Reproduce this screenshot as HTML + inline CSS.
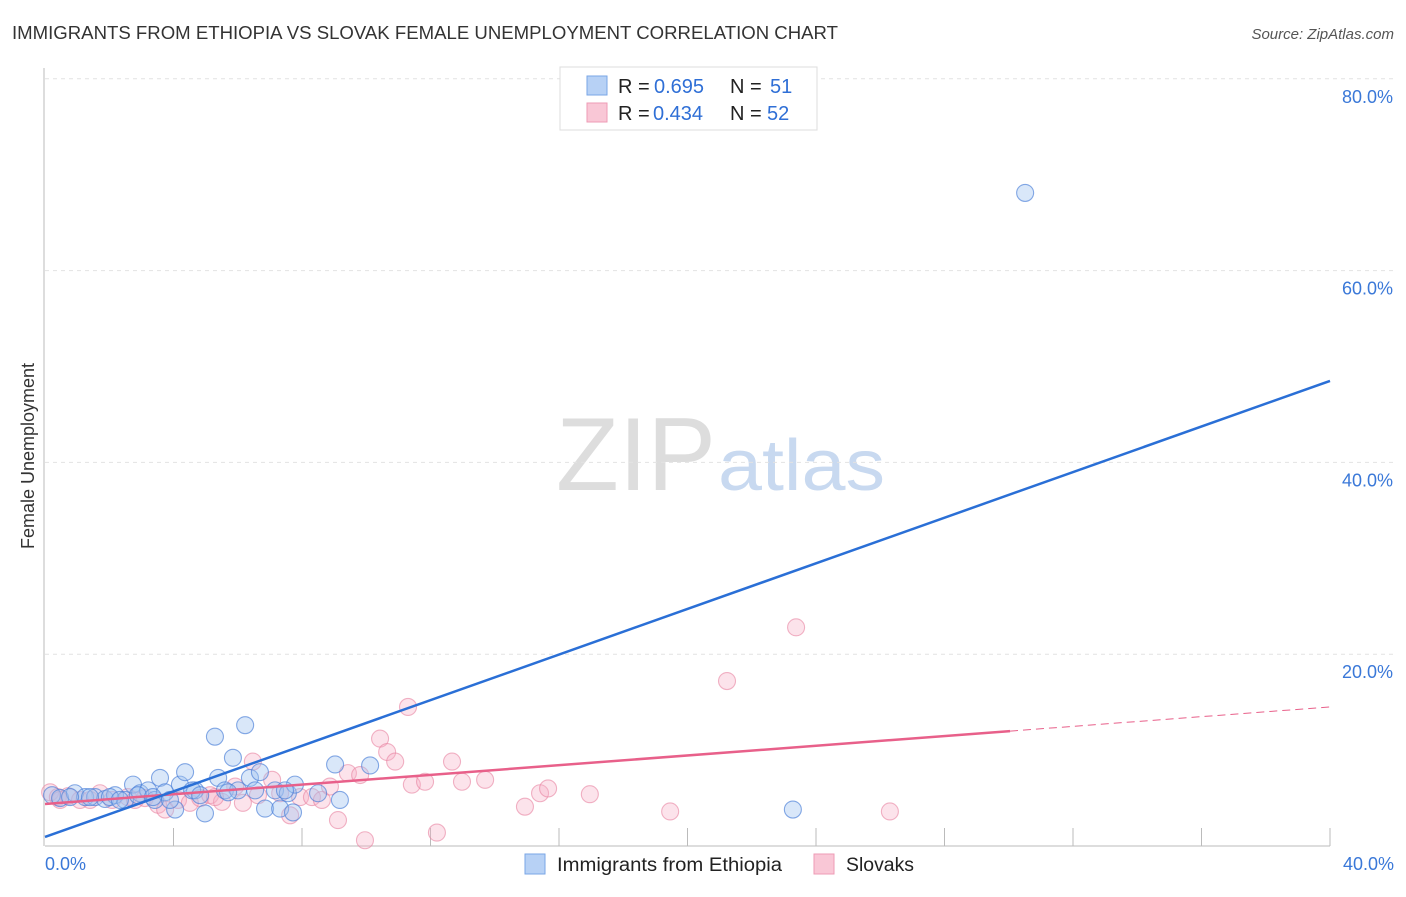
<!DOCTYPE html>
<html><head><meta charset="utf-8"><style>
body{margin:0;background:#fff;font-family:"Liberation Sans",sans-serif;}
svg text{font-family:"Liberation Sans",sans-serif;}
</style></head><body>
<svg id="chart" width="1406" height="892" xmlns="http://www.w3.org/2000/svg">
<text x="12" y="39" font-size="18" fill="#333" textLength="826" lengthAdjust="spacingAndGlyphs">IMMIGRANTS FROM ETHIOPIA VS SLOVAK FEMALE UNEMPLOYMENT CORRELATION CHART</text>
<text x="1394" y="39" font-size="15" fill="#555" font-style="italic" text-anchor="end">Source: ZipAtlas.com</text>
<text x="716" y="490" font-size="104" fill="#ddd" font-family="Liberation Serif" text-anchor="end" textLength="160" lengthAdjust="spacingAndGlyphs">ZIP</text>
<text x="718" y="490" font-size="72" fill="#c8d9f0" textLength="167" lengthAdjust="spacingAndGlyphs">atlas</text>
<text transform="translate(34,456) rotate(-90)" font-size="18" fill="#333" text-anchor="middle">Female Unemployment</text>
<g id="grid"></g><g id="axes"></g><g id="marks"></g>
<g>
<rect x="560" y="67" width="257" height="63" fill="#fff" stroke="#ddd"/>
<rect x="587" y="76" width="20" height="19" fill="#b7d1f5" stroke="#7aa6e6"/>
<rect x="587" y="103" width="20" height="19" fill="#f9c7d6" stroke="#ee9bb5"/>
<text x="618" y="93" font-size="20" fill="#222">R =</text>
<text x="654" y="93" font-size="20" fill="#2f6fd6">0.695</text>
<text x="730" y="93" font-size="20" fill="#222">N =</text>
<text x="770" y="93" font-size="20" fill="#2f6fd6">51</text>
<text x="618" y="120" font-size="20" fill="#222">R =</text>
<text x="653" y="120" font-size="20" fill="#2f6fd6">0.434</text>
<text x="730" y="120" font-size="20" fill="#222">N =</text>
<text x="767" y="120" font-size="20" fill="#2f6fd6">52</text>
</g>
<g>
<rect x="525" y="854" width="20" height="20" fill="#b7d1f5" stroke="#7aa6e6"/>
<text x="557" y="871" font-size="19" fill="#222" textLength="225" lengthAdjust="spacingAndGlyphs">Immigrants from Ethiopia</text>
<rect x="814" y="854" width="20" height="20" fill="#f9c7d6" stroke="#ee9bb5"/>
<text x="846" y="871" font-size="19" fill="#222" textLength="68" lengthAdjust="spacingAndGlyphs">Slovaks</text>
</g>
</svg>
<script>
const yTicks=[20,40,60,80];
const yTickLabels=["20.0%","40.0%","60.0%","80.0%"];
const xTickLabels=["0.0%","40.0%"];
const blueX=[0.22,0.47,0.93,1.25,1.56,1.87,2.18,2.49,2.74,2.96,3.21,3.42,3.58,3.74,4.05,4.20,4.36,4.67,4.98,5.29,5.39,5.60,5.85,6.01,6.23,6.38,6.54,6.69,6.85,7.16,7.32,7.56,7.72,7.78,8.50,9.03,9.18,10.12,30.51,23.28,0.78,1.40,2.02,2.33,2.89,3.36,3.89,4.58,4.83,5.70,7.47];
const blueY=[5.3,5.0,5.5,5.1,5.1,4.9,5.3,4.8,6.4,5.5,5.8,4.8,7.1,5.6,3.8,6.4,7.7,5.8,3.4,11.4,7.1,5.8,9.2,5.8,12.6,7.1,5.8,7.7,3.9,5.8,3.9,5.5,3.5,6.4,5.5,8.5,4.8,8.4,68.1,3.8,5.1,5.1,5.1,4.8,5.3,5.1,4.8,5.8,5.3,5.6,5.8];
const pinkX=[0.16,0.40,0.72,1.09,1.71,2.09,2.58,3.11,3.52,3.74,4.14,4.51,4.83,5.14,5.51,5.92,6.16,6.47,6.63,7.07,7.32,7.63,7.94,8.31,8.62,8.87,9.12,9.43,9.81,9.96,10.43,10.65,10.90,11.30,11.42,11.83,12.20,12.67,12.98,13.70,14.94,15.41,15.66,16.96,19.46,21.23,23.38,26.30,0.47,1.40,2.80,5.29];
const pinkY=[5.6,5.1,5.2,4.8,5.5,4.8,5.1,5.0,4.3,3.8,4.8,4.5,5.0,5.3,4.6,6.2,4.5,8.8,5.3,6.9,5.5,3.2,5.1,5.1,4.8,6.2,2.7,7.6,7.4,0.6,11.2,9.8,8.8,14.5,6.4,6.7,1.4,8.8,6.7,6.9,4.1,5.5,6.0,5.4,3.6,17.2,22.8,3.6,4.8,4.8,4.8,5.1];
const blueTrend=[0.94,48.5];
const pinkTrend=[4.38,14.5];
const pinkSolidEnd=30.04;
const NS="http://www.w3.org/2000/svg";
const X=v=>45+v*32.125, Y=v=>846-v*9.59;
function mk(t,a,p){const e=document.createElementNS(NS,t);for(const k in a)e.setAttribute(k,a[k]);p.appendChild(e);return e;}
const grid=document.getElementById('grid'),axes=document.getElementById('axes'),marks=document.getElementById('marks');
yTicks.forEach((t,i)=>{
 const l=mk('line',{x1:45,x2:1394,y1:Y(t),y2:Y(t),stroke:'#e2e2e2','stroke-dasharray':'4,4'},grid);
 
 
 const tx=mk('text',{x:1393,y:Y(t)+24,'font-size':18,fill:'#3a78d8','text-anchor':'end'},axes);tx.textContent=yTickLabels[i];
 
 
});
const ax=mk('line',{x1:45,x2:1330,y1:846,y2:846,stroke:'#bbb'},axes);


const ay=mk('line',{x1:44,x2:44,y1:68,y2:846,stroke:'#bbb'},axes);


for(let i=1;i<=10;i++){const t=mk('line',{x1:X(i*4),x2:X(i*4),y1:828,y2:846,stroke:'#bbb'},axes);
 
 }
[[45,'start',0],[1394,'end',1]].forEach(([x,a,i])=>{const t=mk('text',{x:x,y:870,'font-size':18,fill:'#3a78d8','text-anchor':a},axes);t.textContent=xTickLabels[i];
 
 });
pinkX.forEach((v,i)=>{const c=mk('circle',{cx:X(v),cy:Y(pinkY[i]),r:8.5,fill:'rgba(246,175,198,0.35)',stroke:'rgba(232,130,160,0.6)','stroke-width':1.1},marks);
 
 });
blueX.forEach((v,i)=>{const c=mk('circle',{cx:X(v),cy:Y(blueY[i]),r:8.5,fill:'rgba(160,195,240,0.4)',stroke:'rgba(70,125,215,0.65)','stroke-width':1.1},marks);
 
 });
const pe=pinkTrend[0]+(pinkTrend[1]-pinkTrend[0])*pinkSolidEnd/40;
const p1=mk('line',{x1:X(0),y1:Y(pinkTrend[0]),x2:X(pinkSolidEnd),y2:Y(pe),stroke:'#e8608a','stroke-width':2.5},marks);


const p2=mk('line',{x1:X(pinkSolidEnd),y1:Y(pe),x2:X(40),y2:Y(pinkTrend[1]),stroke:'#e8608a','stroke-width':1,'stroke-dasharray':'8,5'},marks);


const b1=mk('line',{x1:X(0),y1:Y(blueTrend[0]),x2:X(40),y2:Y(blueTrend[1]),stroke:'#2a6fd6','stroke-width':2.5},marks);


</script>
</body></html>
